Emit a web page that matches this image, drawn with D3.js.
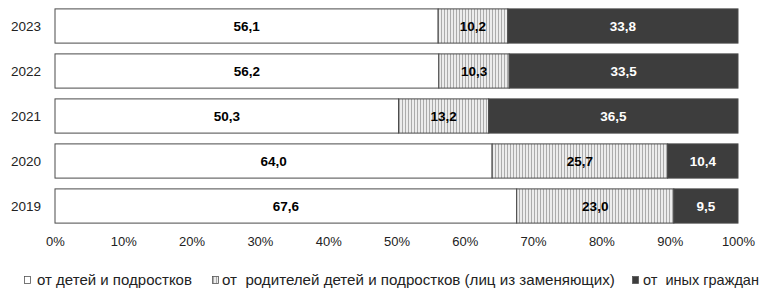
<!DOCTYPE html>
<html>
<head>
<meta charset="utf-8">
<script src="https://cdn.jsdelivr.net/npm/d3@7"></script>
<style>
  body { margin: 0; background: #fff; }
  svg { display: block; font-family: "Liberation Sans", Arial, sans-serif; }
</style>
</head>
<body>
<div id="viz"></div>
<script>
const width = 769
const height = 297

// data
const years = ["2023", "2022", "2021", "2020", "2019"]
const fromChildren = [56.1, 56.2, 50.3, 64.0, 67.6]
const fromParents = [10.2, 10.3, 13.2, 25.7, 23.0]
const fromOthers = [33.8, 33.5, 36.5, 10.4, 9.5]
const seriesNames = ["от детей и подростков", "от\u00a0\u00a0родителей детей и подростков (лиц из заменяющих)", "от\u00a0\u00a0иных граждан"]
const xTicks = [0, 10, 20, 30, 40, 50, 60, 70, 80, 90, 100]

const darkColor = "#3d3d3d"
const formatValue = d => d.toFixed(1).replace(".", ",")

const svg = d3.select("#viz").append("svg").attr("width", width).attr("height", height)

// hatch pattern for middle series
const defs = svg.append("defs")
const hatch = defs.append("pattern").attr("id", "hatch").attr("patternUnits", "userSpaceOnUse")
    .attr("width", 3).attr("height", 4)
hatch.append("rect").attr("width", 3).attr("height", 4).attr("fill", "#ececec")
hatch.append("line").attr("x1", 0.5).attr("x2", 0.5).attr("y1", 0).attr("y2", 4).attr("stroke", "#9a9a9a").attr("stroke-width", 0.8)

const xScale = d3.scaleLinear().domain([0, 100]).range([55, 738])
const yScale = d3.scaleBand().domain(years).range([3.5, 228.5]).paddingInner(0.24).paddingOuter(0.12)

const fills = ["#ffffff", "url(#hatch)", darkColor]
const labelColors = ["#000", "#000", "#fff"]

const rows = years.map((y, i) => ({year: y, values: [fromChildren[i], fromParents[i], fromOthers[i]]}))

const rowGroups = svg.selectAll("g.row").data(rows).enter().append("g").attr("class", "row")
    .attr("transform", d => `translate(0, ${yScale(d.year)})`)

rowGroups.each(function(d) {
    const g = d3.select(this)
    let acc = 0
    d.values.forEach((v, k) => {
        const x0 = xScale(acc), x1 = xScale(Math.min(100, acc + v))
        g.append("rect").attr("x", x0).attr("y", 0).attr("width", x1 - x0).attr("height", yScale.bandwidth())
            .attr("fill", fills[k]).attr("stroke", "#4a4a4a").attr("stroke-width", 1)
        g.append("text").attr("x", (x0 + x1) / 2).attr("y", yScale.bandwidth() / 2).attr("dy", "0.35em")
            .attr("text-anchor", "middle").attr("font-size", 13.5).attr("font-weight", "bold")
            .attr("fill", labelColors[k]).text(formatValue(v))
        acc += v
    })
})

// year labels
svg.selectAll("text.year").data(years).enter().append("text").attr("class", "year")
    .attr("x", 41).attr("y", d => yScale(d) + yScale.bandwidth() / 2).attr("dy", "0.35em")
    .attr("text-anchor", "end").attr("font-size", 13.5).attr("fill", "#222").text(d => d)

// x axis
const xAxis = d3.axisBottom(xScale).tickValues(xTicks).tickFormat(d => d + "%").tickSize(0).tickPadding(0)
const xAxisGroup = svg.append("g").attr("transform", `translate(0, 237)`).call(xAxis)
xAxisGroup.select(".domain").remove()
xAxisGroup.selectAll("text").attr("font-size", 13).attr("fill", "#222")
    .attr("font-family", "Liberation Sans, Arial, sans-serif")

// legend - text is horizontally condensed to fit the spans seen in the reference
const legendItems = [
    {x: 24, textStart: 37, textEnd: 192, fill: "#ffffff"},
    {x: 212, textStart: 222, textEnd: 615, fill: "url(#hatch)"},
    {x: 632, textStart: 643, textEnd: 759, fill: darkColor}
]
const legend = svg.append("g").attr("transform", `translate(0, 280)`)
legendItems.forEach((item, i) => {
    legend.append("rect").attr("x", item.x + 0.5).attr("y", -3.5).attr("width", 6).attr("height", 7)
        .attr("fill", item.fill).attr("stroke", "#555").attr("stroke-width", 0.8)
    const tg = legend.append("g").attr("transform", `translate(${item.textStart}, 0)`)
    const t = tg.append("text").attr("x", 0).attr("y", 0).attr("dy", "0.35em")
        .attr("font-size", 14).attr("fill", "#222")
        .text(seriesNames[i])
    const natural = t.node().getComputedTextLength()
    const k = (item.textEnd - item.textStart) / natural
    tg.attr("transform", `translate(${item.textStart}, 0) scale(${k}, 1)`)
})
</script>
</body>
</html>
